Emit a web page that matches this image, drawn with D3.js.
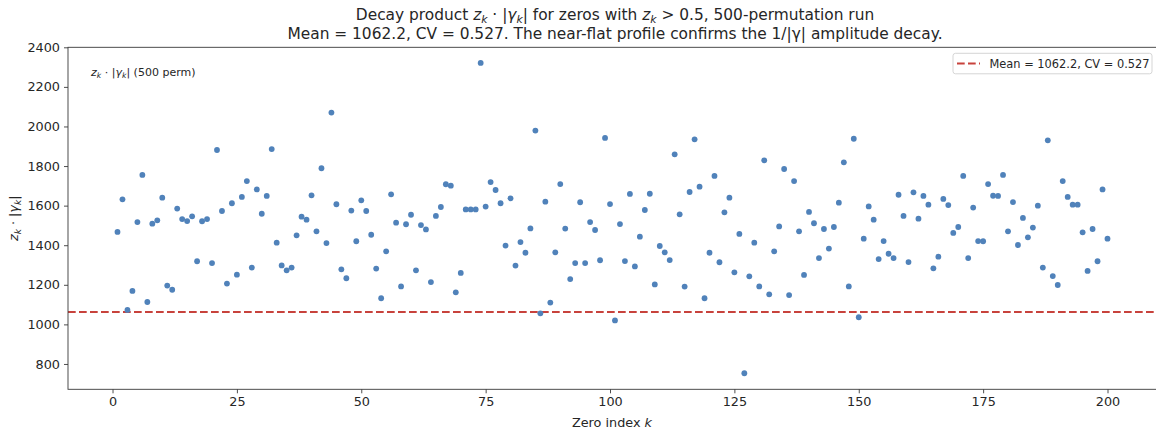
<!DOCTYPE html>
<html>
<head>
<meta charset="utf-8">
<script src="https://cdn.jsdelivr.net/npm/d3@7"></script>
<style>
  html, body { margin: 0; padding: 0; background: #fff; }
  svg { display: block; font-family: "DejaVu Sans", sans-serif; }
</style>
</head>
<body>
<svg id="chart" width="1156" height="432"></svg>
<script>
// Zero index k = 1..200
const zeroIndex = d3.range(1, 201);

// Decay product z_k * |gamma_k| for each zero (500-permutation run)
const decayProduct = [
  1467, 1632, 1073, 1169, 1517, 1755, 1113, 1509, 1526, 1640,
  1196, 1175, 1585, 1532, 1522, 1546, 1319, 1521, 1532, 1310,
  1881, 1573, 1206, 1612, 1251, 1644, 1724, 1287, 1682, 1559,
  1649, 1886, 1413, 1298, 1273, 1287, 1450, 1544, 1529, 1652,
  1470, 1789, 1411, 2070, 1607, 1278, 1233, 1575, 1420, 1627,
  1573, 1453, 1282, 1132, 1369, 1657, 1514, 1192, 1506, 1554,
  1273, 1502, 1480, 1214, 1548, 1593, 1708, 1701, 1162, 1260,
  1581, 1581, 1581, 2321, 1595, 1719, 1679, 1612, 1398, 1637,
  1297, 1416, 1362, 1485, 1979, 1056, 1620, 1110, 1364, 1709,
  1484, 1229, 1310, 1617, 1310, 1517, 1477, 1324, 1942, 1608,
  1020, 1507, 1320, 1659, 1293, 1443, 1578, 1660, 1202, 1396,
  1364, 1325, 1859, 1556, 1191, 1669, 1935, 1696, 1132, 1362,
  1750, 1314, 1566, 1640, 1263, 1457,  753, 1243, 1413, 1192,
  1829, 1152, 1369, 1495, 1785, 1148, 1724, 1470, 1250, 1568,
  1511, 1335, 1482, 1383, 1492, 1615, 1819, 1192, 1938, 1036,
  1433, 1596, 1529, 1330, 1421, 1357, 1335, 1655, 1548, 1315,
  1667, 1534, 1649, 1605, 1283, 1342, 1634, 1603, 1462, 1492,
  1750, 1335, 1590, 1421, 1420, 1709, 1650, 1649, 1755, 1470,
  1618, 1401, 1538, 1440, 1489, 1600, 1287, 1930, 1244, 1199,
  1724, 1644, 1605, 1605, 1465, 1270, 1482, 1319, 1682, 1433
];

const meanValue = 1062.2;
const cvValue = 0.527;

const xTicks = [0, 25, 50, 75, 100, 125, 150, 175, 200];
const yTicks = [800, 1000, 1200, 1400, 1600, 1800, 2000, 2200, 2400];

const points = zeroIndex.map((k, i) => ({ k, v: decayProduct[i] }));

const svg = d3.select("#chart");
const plot = { left: 68, right: 1157, top: 47.3, bottom: 389.3 };

const x = d3.scaleLinear().domain([-8.95, 209.95]).range([plot.left, plot.right]);
const y = d3.scaleLinear().domain([672, 2400]).range([plot.bottom, plot.top]);

const dotColor = "#5082ba";
const meanColor = "#c8423c";
const axisColor = "#3a3a3a";
const textColor = "#262626";

// Writes a run of plain / italic / subscript pieces into a <text> node
function richText(sel, parts, size) {
  let shifted = false;
  parts.forEach(p => {
    const ts = sel.append("tspan").text(p.t);
    if (p.i) ts.attr("font-style", "italic");
    if (p.sub) {
      ts.attr("font-size", size * 0.7).attr("dy", shifted ? 0 : size * 0.22);
      shifted = true;
    } else {
      if (shifted) ts.attr("dy", -size * 0.22);
      shifted = false;
    }
  });
  return sel;
}

// Clip region for the plotting area
svg.append("clipPath").attr("id", "plot-clip")
  .append("rect")
  .attr("x", plot.left).attr("y", plot.top)
  .attr("width", plot.right - plot.left).attr("height", plot.bottom - plot.top);

const body = svg.append("g").attr("clip-path", "url(#plot-clip)");

// Mean reference line
body.append("line")
  .attr("x1", plot.left).attr("x2", plot.right)
  .attr("y1", y(meanValue)).attr("y2", y(meanValue))
  .attr("stroke", meanColor).attr("stroke-width", 2.1)
  .attr("stroke-dasharray", "7.7,3.3");

// Scatter points
body.selectAll("circle.pt")
  .data(points)
  .join("circle")
  .attr("class", "pt")
  .attr("cx", d => x(d.k))
  .attr("cy", d => y(d.v))
  .attr("r", 2.9)
  .attr("fill", dotColor);

// Axes
const xAxis = d3.axisBottom(x).tickValues(xTicks).tickSize(4).tickPadding(4).tickFormat(d3.format("d"));
const yAxis = d3.axisLeft(y).tickValues(yTicks).tickSize(4).tickPadding(4).tickFormat(d3.format("d"));

const gx = svg.append("g").attr("transform", `translate(0,${plot.bottom})`).call(xAxis);
const gy = svg.append("g").attr("transform", `translate(${plot.left},0)`).call(yAxis);
[gx, gy].forEach(g => {
  g.select(".domain").remove();
  g.selectAll(".tick line").attr("stroke", axisColor).attr("stroke-width", 0.9);
  g.selectAll(".tick text")
    .attr("fill", textColor)
    .attr("font-size", 12.8)
    .attr("font-family", "DejaVu Sans, sans-serif");
});

// Frame
svg.append("rect")
  .attr("x", plot.left).attr("y", plot.top)
  .attr("width", plot.right - plot.left).attr("height", plot.bottom - plot.top)
  .attr("fill", "none").attr("stroke", axisColor).attr("stroke-width", 0.9);

// Title (two lines)
const cx = (plot.left + 1156) / 2 + 3;
richText(
  svg.append("text").attr("x", cx).attr("y", 20).attr("text-anchor", "middle")
    .attr("font-size", 15.4).attr("fill", textColor),
  [
    { t: "Decay product " },
    { t: "z", i: true }, { t: "k", i: true, sub: true },
    { t: " · |" }, { t: "γ", i: true }, { t: "k", i: true, sub: true },
    { t: "| for zeros with " },
    { t: "z", i: true }, { t: "k", i: true, sub: true },
    { t: " > 0.5, 500-permutation run" }
  ], 15.4);

svg.append("text").attr("x", cx).attr("y", 38.5).attr("text-anchor", "middle")
  .attr("font-size", 15.4).attr("fill", textColor)
  .text(`Mean = ${meanValue.toFixed(1)}, CV = ${cvValue.toFixed(3)}. The near-flat profile confirms the 1/|γ| amplitude decay.`);

// Axis labels
richText(
  svg.append("text").attr("x", cx - 3).attr("y", 427).attr("text-anchor", "middle")
    .attr("font-size", 12.8).attr("fill", textColor),
  [{ t: "Zero index " }, { t: "k", i: true }], 12.8);

richText(
  svg.append("text")
    .attr("transform", `translate(18,${(plot.top + plot.bottom) / 2}) rotate(-90)`)
    .attr("text-anchor", "middle").attr("font-size", 12.8).attr("fill", textColor),
  [
    { t: "z", i: true }, { t: "k", i: true, sub: true },
    { t: " · |" }, { t: "γ", i: true }, { t: "k", i: true, sub: true }, { t: "|" }
  ], 12.8);

// In-plot series note
richText(
  svg.append("text").attr("x", 91).attr("y", 75.5)
    .attr("font-size", 11).attr("fill", textColor),
  [
    { t: "z", i: true }, { t: "k", i: true, sub: true },
    { t: " · |" }, { t: "γ", i: true }, { t: "k", i: true, sub: true },
    { t: "| (500 perm)" }
  ], 11);

// Legend
const lg = svg.append("g");
lg.append("rect")
  .attr("x", 953).attr("y", 53.3).attr("width", 199).attr("height", 20.5)
  .attr("rx", 2.5).attr("fill", "#fff").attr("fill-opacity", 0.85)
  .attr("stroke", "#d0d0d0").attr("stroke-width", 0.9);
lg.append("line")
  .attr("x1", 957).attr("x2", 980).attr("y1", 63.5).attr("y2", 63.5)
  .attr("stroke", meanColor).attr("stroke-width", 2.1)
  .attr("stroke-dasharray", "7.7,3.3");
lg.append("text")
  .attr("x", 989.5).attr("y", 67.5)
  .attr("font-size", 11.4).attr("fill", textColor)
  .text(`Mean = ${meanValue.toFixed(1)}, CV = ${cvValue.toFixed(3)}`);
</script>
</body>
</html>
